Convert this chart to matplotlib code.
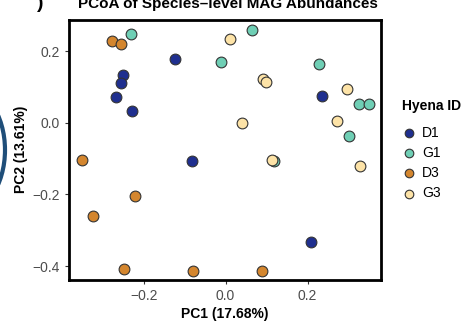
import matplotlib
matplotlib.use("Agg")
import matplotlib.pyplot as plt
from matplotlib.patches import Ellipse
import numpy as np

plt.rcParams['font.family'] = ['Liberation Sans', 'DejaVu Sans']

# PCoA coordinates, one pair of lists per hyena
d1_x = [-0.124, -0.250, -0.254, -0.267, -0.229, 0.235, -0.082, 0.209]
d1_y = [0.177, 0.133, 0.111, 0.072, 0.034, 0.074, -0.108, -0.333]
g1_x = [-0.230, 0.064, -0.011, 0.228, 0.325, 0.350, 0.300, 0.117]
g1_y = [0.247, 0.258, 0.170, 0.165, 0.051, 0.051, -0.036, -0.106]
d3_x = [-0.277, -0.255, -0.350, -0.221, -0.324, -0.247, -0.080, 0.089]
d3_y = [0.228, 0.221, -0.105, -0.204, -0.260, -0.408, -0.414, -0.414]
g3_x = [0.011, 0.092, 0.098, 0.041, 0.297, 0.271, 0.328, 0.113]
g3_y = [0.234, 0.122, 0.114, 0.000, 0.094, 0.005, -0.120, -0.104]

groups = ["D1", "G1", "D3", "G3"]
colors = ["#1f2f8f", "#6fcfb5", "#d4862e", "#fde3a7"]
xs = [d1_x, g1_x, d3_x, g3_x]
ys = [d1_y, g1_y, d3_y, g3_y]

fig = plt.figure(figsize=(4.72, 3.22), dpi=100)
ax = fig.add_axes([0.1462, 0.1304, 0.661, 0.809])

for name, col, x, y in zip(groups, colors, xs, ys):
    ax.scatter(x, y, s=60, c=col, edgecolors="#333333", linewidths=0.8,
               label=name, zorder=3)

ax.set_xlim(-0.382, 0.379)
ax.set_ylim(-0.439, 0.288)
ax.set_xticks([-0.2, 0.0, 0.2])
ax.set_yticks([-0.4, -0.2, 0.0, 0.2])
ax.set_xticklabels(["\u22120.2", "0.0", "0.2"])
ax.set_yticklabels(["\u22120.4", "\u22120.2", "0.0", "0.2"])
ax.tick_params(labelsize=10, labelcolor="#4d4d4d", color="#333333",
               length=3, width=0.8)
for sp in ax.spines.values():
    sp.set_linewidth(2)
    sp.set_color("black")

ax.set_xlabel("PC1 (17.68%)", fontsize=10, fontweight="bold", labelpad=3)
ax.set_ylabel("PC2 (13.61%)", fontsize=10, fontweight="bold", labelpad=3)

# title sits partly above the crop, as in the reference
fig.text(0.483, 0.974, "PCoA of Species\u2013level MAG Abundances",
         ha="center", va="baseline", fontsize=11, fontweight="bold")
fig.text(0.085, 0.974, ")", ha="center", va="baseline", fontsize=14,
         fontweight="bold")

# bit of the neighbouring panel at the left edge
fig.patches.append(Ellipse((-40 / 472, 1 - 150 / 322), 90 / 472, 130 / 322,
                           transform=fig.transFigure, fill=False,
                           edgecolor="#1f4e79", linewidth=3))

leg = fig.legend(loc="center left", bbox_to_anchor=(0.826, 0.535),
                 frameon=False, title="Hyena ID", fontsize=10,
                 title_fontproperties={"weight": "bold", "size": 10},
                 handlelength=1.0, handletextpad=0.4, labelspacing=0.45,
                 markerscale=0.8)
leg._legend_box.align = "left"
leg._legend_box.sep = 9

fig.savefig("out.png", dpi=100)
